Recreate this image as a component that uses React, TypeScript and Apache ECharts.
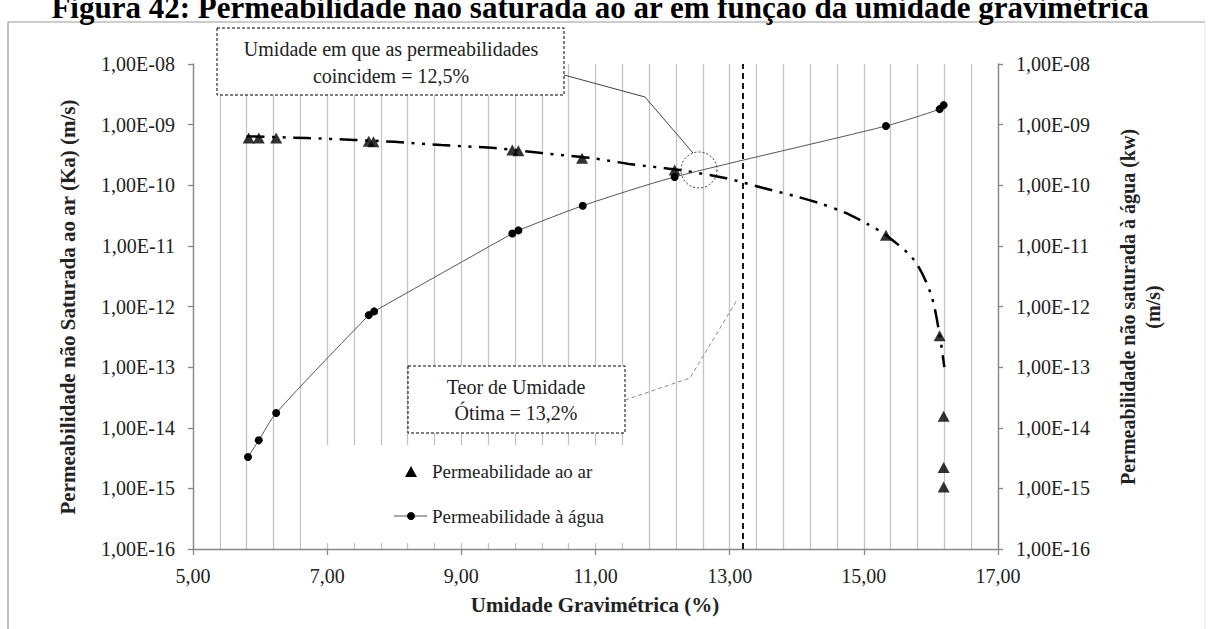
import React, { useEffect, useRef } from 'react';
import * as echarts from 'echarts';

// ---- Data ----
const xTickLabels = ['5,00', '7,00', '9,00', '11,00', '13,00', '15,00', '17,00'];
const yTickLabels = ['1,00E-16', '1,00E-15', '1,00E-14', '1,00E-13', '1,00E-12', '1,00E-11', '1,00E-10', '1,00E-09', '1,00E-08'];

// Permeabilidade ao ar (Ka) – triangles
const airMoisture = [5.83, 5.98, 6.24, 7.62, 7.69, 9.76, 9.85, 10.8, 12.18, 15.33, 16.13, 16.19, 16.19, 16.19];
const airPermeability = [6.0e-10, 6.0e-10, 6.0e-10, 5.3e-10, 5.2e-10, 3.8e-10, 3.7e-10, 2.8e-10, 1.78e-10, 1.5e-11, 3.3e-13, 1.55e-14, 2.2e-15, 1.05e-15];

// Permeabilidade à água (kw) – circles
const waterMoisture = [5.82, 5.98, 6.24, 7.62, 7.7, 9.76, 9.85, 10.81, 12.18, 15.33, 16.13, 16.19];
const waterPermeability = [3.3e-15, 6.2e-15, 1.75e-14, 7.2e-13, 8.3e-13, 1.6e-11, 1.8e-11, 4.6e-11, 1.37e-10, 9.5e-10, 1.8e-9, 2.1e-9];

// Trend line of the air permeability (dash-dot-dot)
const airTrendMoisture = [5.8, 6.7, 7.4, 8.0, 8.7, 9.5, 10.2, 10.95, 11.5, 12.3, 12.95, 13.5, 14.0, 14.35, 14.7, 15.05, 15.35, 15.75, 16.0, 16.13, 16.2];
const airTrendPermeability = [6.4e-10, 6.0e-10, 5.6e-10, 5.2e-10, 4.6e-10, 4.1e-10, 3.4e-10, 2.8e-10, 2.25e-10, 1.75e-10, 1.3e-10, 9.0e-11, 6.5e-11, 5.0e-11, 3.6e-11, 2.3e-11, 1.45e-11, 5.8e-12, 1.6e-12, 3.4e-13, 1.0e-13];

const optimumMoisture = 13.2;

const legendLabels = ['Permeabilidade ao ar', 'Permeabilidade à água'];
const titleText = 'Figura 42: Permeabilidade não saturada ao ar em função da umidade gravimétrica';
const xAxisTitle = 'Umidade Gravimétrica (%)';
const yLeftTitle = 'Permeabilidade não Saturada ao ar (Ka) (m/s)';
const yRightTitle = 'Permeabilidade não saturada à água (kw)\n(m/s)';
const noteCoincide = 'Umidade em que as permeabilidades\ncoincidem = 12,5%';
const noteOptimum = 'Teor de Umidade\nÓtima = 13,2%';

const FONT = "'Liberation Serif', 'Times New Roman', serif";
const AXIS_GRAY = '#868686';
const GRID_GRAY = '#c4c4c4';

function zip(xs: number[], ys: number[]) {
  return xs.map((x, i) => [x, ys[i]]);
}

function yAxis(position: 'left' | 'right') {
  return {
    type: 'log',
    logBase: 10,
    min: 1e-16,
    max: 1e-8,
    splitNumber: 8,
    position,
    axisLine: { show: true, lineStyle: { color: AXIS_GRAY, width: 1.3 } },
    axisTick: { show: true, length: 5, lineStyle: { color: AXIS_GRAY, width: 1.3 } },
    axisLabel: {
      margin: 18,
      fontFamily: FONT,
      fontSize: 20,
      color: '#222',
      formatter: (v: number) => yTickLabels[Math.round(Math.log10(v)) + 16] ?? '',
    },
    splitLine: { show: false },
    minorTick: { show: false },
  };
}

export default function App() {
  const ref = useRef<HTMLDivElement>(null);

  useEffect(() => {
    if (!ref.current) return;
    const chart = echarts.init(ref.current, undefined, { renderer: 'svg' });

    const option: any = {
      animation: false,
      backgroundColor: '#ffffff',
      grid: { left: 193, right: 212, top: 64, bottom: 80, containLabel: false },
      xAxis: {
        type: 'value',
        min: 5,
        max: 17,
        interval: 2,
        axisLine: { show: true, onZero: false, lineStyle: { color: AXIS_GRAY, width: 1.3 } },
        axisTick: { show: true, length: 6, lineStyle: { color: AXIS_GRAY, width: 1.3 } },
        minorTick: { show: true, splitNumber: 5, length: 0 },
        axisLabel: {
          margin: 17,
          fontFamily: FONT,
          fontSize: 20,
          color: '#222',
          formatter: (v: number) => xTickLabels[Math.round((v - 5) / 2)] ?? '',
        },
        splitLine: { show: true, lineStyle: { color: GRID_GRAY, width: 1.3 } },
        minorSplitLine: { show: true, lineStyle: { color: GRID_GRAY, width: 1.3 } },
      },
      yAxis: [yAxis('left'), yAxis('right')],
      series: [
        {
          name: 'trend',
          type: 'line',
          yAxisIndex: 0,
          data: zip(airTrendMoisture, airTrendPermeability),
          showSymbol: false,
          symbol: 'none',
          smooth: 0.3,
          lineStyle: { color: '#000', width: 2.5, type: [18, 7.5, 3, 7.5, 3, 7.5] },
          z: 3,
          markLine: {
            silent: true,
            symbol: 'none',
            label: { show: false },
            lineStyle: { color: '#000', type: [6, 4], width: 1.8 },
            data: [{ xAxis: optimumMoisture }],
          },
        },
        {
          name: legendLabels[0],
          type: 'scatter',
          yAxisIndex: 0,
          data: zip(airMoisture, airPermeability),
          symbol: 'triangle',
          symbolSize: [12, 11],
          itemStyle: { color: '#000' },
          z: 4,
        },
        {
          name: legendLabels[1],
          type: 'line',
          yAxisIndex: 1,
          data: zip(waterMoisture, waterPermeability),
          symbol: 'circle',
          symbolSize: 8,
          showSymbol: true,
          smooth: 0.25,
          itemStyle: { color: '#000' },
          lineStyle: { color: '#555', width: 1 },
          z: 5,
        },
      ],
      graphic: [
        // outer frame
        { type: 'line', z: 100, shape: { x1: 8, y1: 22, x2: 1205, y2: 22 }, style: { stroke: '#9a9a9a', lineWidth: 1.2 } },
        { type: 'line', z: 100, shape: { x1: 8, y1: 22, x2: 8, y2: 629 }, style: { stroke: '#9a9a9a', lineWidth: 1.2 } },
        { type: 'line', z: 100, shape: { x1: 1205, y1: 22, x2: 1205, y2: 629 }, style: { stroke: '#e4e4e4', lineWidth: 1 } },
        // figure caption (cut at top, as in the reference)
        {
          type: 'text', z: 100, x: 600, y: 23,
          style: { text: titleText, fontFamily: FONT, fontWeight: 'bold', fontSize: 31, fill: '#000', align: 'center', verticalAlign: 'bottom' },
        },
        // annotation box 1
        {
          type: 'rect', z: 100, shape: { x: 217, y: 28, width: 347, height: 67 },
          style: { fill: '#fff', stroke: '#000', lineWidth: 1, lineDash: [3, 2] },
        },
        {
          type: 'text', z: 101, x: 391, y: 62,
          style: { text: noteCoincide, fontFamily: FONT, fontSize: 20, lineHeight: 27, fill: '#222', align: 'center', verticalAlign: 'middle' },
        },
        // annotation box 2
        {
          type: 'rect', z: 100, shape: { x: 408, y: 366, width: 217, height: 67 },
          style: { fill: '#fff', stroke: '#000', lineWidth: 1, lineDash: [3, 2] },
        },
        {
          type: 'text', z: 101, x: 516, y: 400,
          style: { text: noteOptimum, fontFamily: FONT, fontSize: 20, lineHeight: 26, fill: '#222', align: 'center', verticalAlign: 'middle' },
        },
        // leader lines + circle
        {
          type: 'polyline', z: 100, shape: { points: [[564, 75], [645, 97], [693, 153]] },
          style: { stroke: '#444', lineWidth: 1, fill: 'none' },
        },
        {
          type: 'polyline', z: 100, shape: { points: [[625, 400], [690, 378], [737, 300]] },
          style: { stroke: '#888', lineWidth: 1, lineDash: [4, 3], fill: 'none' },
        },
        {
          type: 'circle', z: 100, shape: { cx: 699, cy: 170, r: 18 },
          style: { stroke: '#333', lineWidth: 1, lineDash: [2, 2], fill: 'none' },
        },
        // legend
        { type: 'rect', z: 99, shape: { x: 308, y: 445, width: 316, height: 98 }, style: { fill: '#fff', stroke: 'none' } },
        { type: 'polygon', z: 101, shape: { points: [[405, 477], [417, 477], [411, 466]] }, style: { fill: '#000' } },
        {
          type: 'text', z: 101, x: 432, y: 471,
          style: { text: legendLabels[0], fontFamily: FONT, fontSize: 19, fill: '#222', align: 'left', verticalAlign: 'middle' },
        },
        { type: 'line', z: 101, shape: { x1: 394, y1: 516, x2: 427, y2: 516 }, style: { stroke: '#555', lineWidth: 1 } },
        { type: 'circle', z: 102, shape: { cx: 411, cy: 516, r: 4 }, style: { fill: '#000' } },
        {
          type: 'text', z: 101, x: 432, y: 516,
          style: { text: legendLabels[1], fontFamily: FONT, fontSize: 19, fill: '#222', align: 'left', verticalAlign: 'middle' },
        },
        // axis titles
        {
          type: 'text', z: 100, x: 68, y: 307, rotation: Math.PI / 2,
          style: { text: yLeftTitle, fontFamily: FONT, fontWeight: 'bold', fontSize: 21, fill: '#222', align: 'center', verticalAlign: 'middle' },
        },
        {
          type: 'text', z: 100, x: 1140, y: 307, rotation: Math.PI / 2,
          style: { text: yRightTitle, fontFamily: FONT, fontWeight: 'bold', fontSize: 20, lineHeight: 25, fill: '#222', align: 'center', verticalAlign: 'middle' },
        },
        {
          type: 'text', z: 100, x: 595, y: 605,
          style: { text: xAxisTitle, fontFamily: FONT, fontWeight: 'bold', fontSize: 21, fill: '#222', align: 'center', verticalAlign: 'middle' },
        },
      ],
    };

    chart.setOption(option);
    return () => chart.dispose();
  }, []);

  return (
    <div
      ref={ref}
      style={{ position: 'absolute', left: 0, top: 0, width: 1210, height: 629, background: '#fff' }}
    />
  );
}
